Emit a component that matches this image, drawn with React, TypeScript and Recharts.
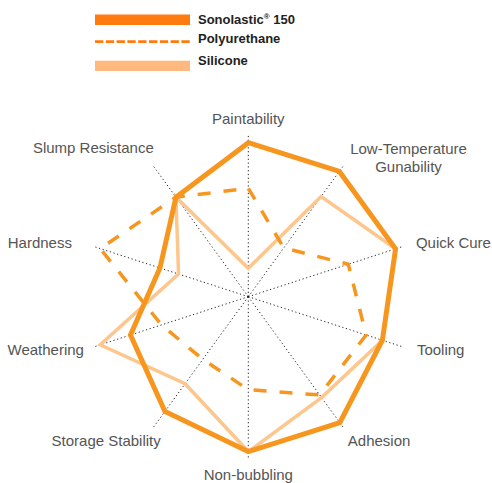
import { RadarChart, Radar, PolarGrid, PolarAngleAxis, PolarRadiusAxis } from "recharts"

const categories = [
  "Paintability",
  "Low-Temperature Gunability",
  "Quick Cure",
  "Tooling",
  "Adhesion",
  "Non-bubbling",
  "Storage Stability",
  "Weathering",
  "Hardness",
  "Slump Resistance",
]
const sonolastic = [9.45, 9.5, 9.5, 8.65, 9.55, 9.5, 8.7, 7.6, 5.7, 7.55]
const polyurethane = [6.65, 3.7, 6.45, 7.6, 7.45, 5.7, 4.75, 5.6, 9.55, 7.55]
const silicone = [1.75, 7.6, 9.5, 8.65, 7.65, 9.5, 6.6, 9.55, 4.5, 7.55]

const chartData = categories.map((name, i) => ({
  name,
  sonolastic: sonolastic[i],
  polyurethane: polyurethane[i],
  silicone: silicone[i],
}))

const ORANGE = "#F7961E"
const LIGHT = "#FDC68D"
const FONT = "'Liberation Sans', Arial, sans-serif"

// label placement relative to the tick point recharts hands us
const labelPos: Record<string, { dx: number; dy: number; anchor: string; lines?: string[]; dy2?: number }> = {
  "Paintability": { dx: 0, dy: -2, anchor: "middle" },
  "Low-Temperature Gunability": { dx: 59.7, dy: -4.7, anchor: "middle", lines: ["Low-Temperature", "Gunability"], dy2: 18.3 },
  "Quick Cure": { dx: 5, dy: 3.8, anchor: "start" },
  "Tooling": { dx: 6, dy: 5.9, anchor: "start" },
  "Adhesion": { dx: -1, dy: 11.4, anchor: "start" },
  "Non-bubbling": { dx: 0, dy: 12, anchor: "middle" },
  "Storage Stability": { dx: 13, dy: 11.4, anchor: "end" },
  "Weathering": { dx: -1.7, dy: 5.9, anchor: "end" },
  "Hardness": { dx: -13.7, dy: 3.8, anchor: "end" },
  "Slump Resistance": { dx: 6, dy: -5.4, anchor: "end" },
}

function AngleTick(props: any) {
  const { x, y, payload } = props
  const p = labelPos[payload.value]
  const style = { fontFamily: FONT, fontSize: 15, fill: "#555" }
  if (p.lines) {
    return (
      <g>
        <text x={x + p.dx} y={y + p.dy} textAnchor={p.anchor} style={style}>{p.lines[0]}</text>
        <text x={x + p.dx} y={y + p.dy + (p.dy2 || 0)} textAnchor={p.anchor} style={style}>{p.lines[1]}</text>
      </g>
    )
  }
  return (
    <text x={x + p.dx} y={y + p.dy} textAnchor={p.anchor} style={style}>{payload.value}</text>
  )
}

function LegendBox() {
  const txt = { fontFamily: FONT, fontSize: 13, fontWeight: 700, fill: "#222" }
  return (
    <svg width={300} height={80} style={{ position: "absolute", left: 0, top: 0 }}>
      <rect x={95} y={14.5} width={95} height={10.5} fill="#FF7A0F" />
      <text x={198} y={24} style={txt}>
        Sonolastic<tspan fontSize={8} dy={-5}>®</tspan><tspan dy={5}> 150</tspan>
      </text>
      <line x1={95} x2={190} y1={41.7} y2={41.7} stroke="#FF7A0F" strokeWidth={2.7} strokeDasharray="8.3 2.5" />
      <text x={198} y={43} style={txt}>Polyurethane</text>
      <rect x={95} y={60.7} width={95} height={10.3} fill="#FFB97E" />
      <text x={198} y={65} style={txt}>Silicone</text>
    </svg>
  )
}

export default function App() {
  return (
    <div style={{ position: "absolute", left: 0, top: 0, width: 492, height: 483, background: "#fff" }}>
      <RadarChart
        width={492}
        height={483}
        data={chartData}
        cx={248.3}
        cy={296.7}
        outerRadius={163}
        margin={{ top: 0, right: 0, bottom: 0, left: 0 }}
      >
        <PolarGrid polarRadius={[]} stroke="#222" strokeDasharray="1.2 2.6" strokeWidth={1} />
        <PolarAngleAxis dataKey="name" tick={<AngleTick />} tickLine={false} axisLine={false} />
        <PolarRadiusAxis domain={[0, 10]} tick={false} axisLine={false} tickCount={2} />
        <Radar dataKey="silicone" stroke={LIGHT} strokeWidth={3.5} fill="none" fillOpacity={0} dot={false} isAnimationActive={false} />
        <Radar dataKey="polyurethane" stroke={ORANGE} strokeWidth={3.5} strokeDasharray="13 13" fill="none" fillOpacity={0} dot={false} isAnimationActive={false} />
        <Radar dataKey="sonolastic" stroke={ORANGE} strokeWidth={5} strokeLinejoin="miter" fill="none" fillOpacity={0} dot={false} isAnimationActive={false} />
      </RadarChart>
      <LegendBox />
    </div>
  )
}
